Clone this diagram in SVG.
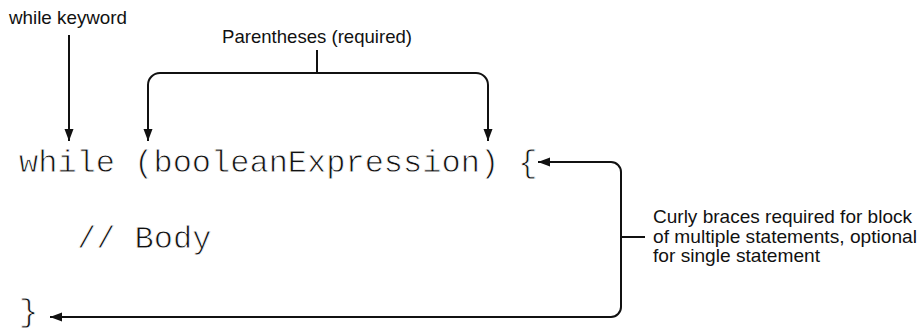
<svg xmlns="http://www.w3.org/2000/svg" width="923" height="331" viewBox="0 0 923 331">
<style>
.lbl{font-family:"Liberation Sans",Arial,sans-serif;font-size:19px;fill:#111}
.code{font-family:"Liberation Mono","Courier New",monospace;font-size:32px;fill:#111;stroke:#fff;stroke-width:0.8}
.ln{fill:none;stroke:#111;stroke-width:2}
</style>
<defs>
<marker id="ah" markerUnits="userSpaceOnUse" markerWidth="13" markerHeight="10" refX="12" refY="4.5" orient="auto-start-reverse">
<path d="M0,0 L12,4.5 L0,9 z" fill="#111"/>
</marker>
</defs>
<rect width="923" height="331" fill="#fff"/>
<g id="code">
<text class="code" x="19" y="172">while (booleanExpression) {</text>
<text class="code" x="77" y="248">// Body</text>
<text class="code" x="19" y="321">}</text>
</g>
<g id="label-while">
<text class="lbl" x="9" y="24" textLength="118" lengthAdjust="spacingAndGlyphs">while keyword</text>
</g>
<g id="label-parens">
<text class="lbl" x="222" y="43" textLength="190" lengthAdjust="spacingAndGlyphs">Parentheses (required)</text>
</g>
<g id="label-braces">
<text class="lbl" x="653" y="223" textLength="259" lengthAdjust="spacingAndGlyphs">Curly braces required for block</text>
<text class="lbl" x="653" y="242.5" textLength="264" lengthAdjust="spacingAndGlyphs">of multiple statements, optional</text>
<text class="lbl" x="653" y="262" textLength="167" lengthAdjust="spacingAndGlyphs">for single statement</text>
</g>
<g id="connectors">
<path class="ln" d="M69,35 V141" marker-end="url(#ah)"/>
<path class="ln" d="M317,50 V73"/>
<path class="ln" d="M148,141 V85 A12,12 0 0 1 160,73 H476 A12,12 0 0 1 488,85 V141" marker-start="url(#ah)" marker-end="url(#ah)"/>
<path class="ln" d="M538,162 H611 A10,10 0 0 1 621,172 V307 A10,10 0 0 1 611,317 H50" marker-start="url(#ah)" marker-end="url(#ah)"/>
<path class="ln" d="M621,237 H645"/>
</g>
</svg>
